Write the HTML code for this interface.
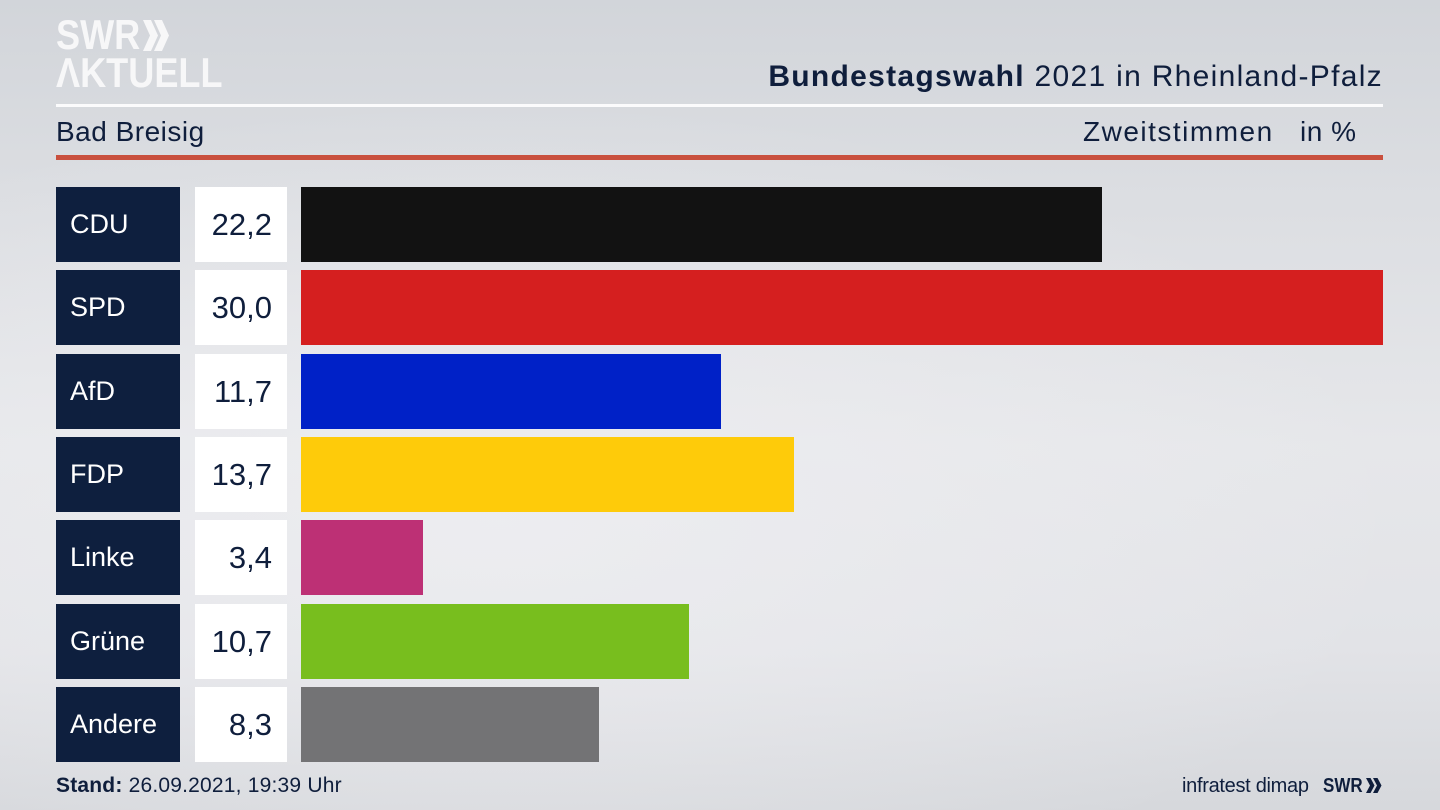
<!DOCTYPE html>
<html>
<head>
<meta charset="utf-8">
<style>
  html,body{margin:0;padding:0;}
  body{width:1440px;height:810px;overflow:hidden;position:relative;
    font-family:"Liberation Sans",sans-serif;color:#0f1e3c;
    background:
      radial-gradient(ellipse 900px 420px at 500px 520px, rgba(240,240,243,0.7), rgba(240,240,243,0) 100%),
      linear-gradient(180deg,#d2d5da 0%,#dcdee2 25%,#e6e7ea 55%,#e2e3e7 80%,#d6d8dc 100%);}
  .abs{position:absolute;}
  .logo{left:56px;color:#f7f7f8;font-weight:bold;font-size:42px;line-height:1;transform-origin:0 0;transform:scaleX(0.86);white-space:nowrap;}
  .title{right:57px;top:58px;font-size:30px;letter-spacing:1.3px;white-space:nowrap;line-height:38px;}
  .sub{top:114px;font-size:28px;line-height:36px;white-space:nowrap;}
  .lbl{left:56px;width:124px;height:75px;background:#0e1f3e;color:#fff;font-size:27px;line-height:75px;box-sizing:border-box;padding-left:14px;}
  .val{left:195px;width:92px;height:75px;background:#fff;color:#0f1e3c;font-size:31px;line-height:75px;text-align:right;box-sizing:border-box;padding-right:15px;}
  .bar{left:301px;height:75px;}
</style>
</head>
<body>
  <!-- Logo -->
  <div class="abs logo" style="top:14px;">SWR</div>
  <svg class="abs" style="left:143px;top:20px;" width="27" height="31" viewBox="0 0 27 31">
    <polygon points="0,0 8,0 15,15.5 8,31 0,31 7,15.5" fill="#f7f7f8"/>
    <polygon points="11,0 19,0 26,15.5 19,31 11,31 18,15.5" fill="#f7f7f8"/>
  </svg>
  <div class="abs logo" style="top:52px;">ΛKTUELL</div>

  <!-- Title -->
  <div class="abs title"><b>Bundestagswahl</b> 2021 in Rheinland-Pfalz</div>
  <div class="abs" style="left:56px;top:104px;width:1327px;height:3px;background:#fbfbfc;"></div>

  <div class="abs sub" style="left:56px;letter-spacing:0.5px;">Bad Breisig</div>
  <div class="abs sub" style="left:1083px;letter-spacing:1.5px;">Zweitstimmen</div>
  <div class="abs sub" style="left:1300px;letter-spacing:0.5px;">in %</div>
  <div class="abs" style="left:56px;top:155px;width:1327px;height:5px;background:#c9503e;"></div>

  <!-- Rows -->
  <div class="abs lbl" style="top:187px;">CDU</div>
  <div class="abs val" style="top:187px;">22,2</div>
  <div class="abs bar" style="top:187px;width:801px;background:#121212;"></div>

  <div class="abs lbl" style="top:270px;">SPD</div>
  <div class="abs val" style="top:270px;">30,0</div>
  <div class="abs bar" style="top:270px;width:1082px;background:#d51f1f;"></div>

  <div class="abs lbl" style="top:354px;">AfD</div>
  <div class="abs val" style="top:354px;">11,7</div>
  <div class="abs bar" style="top:354px;width:420px;background:#0021c7;"></div>

  <div class="abs lbl" style="top:437px;">FDP</div>
  <div class="abs val" style="top:437px;">13,7</div>
  <div class="abs bar" style="top:437px;width:493px;background:#fecb0a;"></div>

  <div class="abs lbl" style="top:520px;">Linke</div>
  <div class="abs val" style="top:520px;">3,4</div>
  <div class="abs bar" style="top:520px;width:122px;background:#bd3075;"></div>

  <div class="abs lbl" style="top:604px;">Grüne</div>
  <div class="abs val" style="top:604px;">10,7</div>
  <div class="abs bar" style="top:604px;width:388px;background:#78be1e;"></div>

  <div class="abs lbl" style="top:687px;">Andere</div>
  <div class="abs val" style="top:687px;">8,3</div>
  <div class="abs bar" style="top:687px;width:298px;background:#737375;"></div>

  <!-- Footer -->
  <div class="abs" style="left:56px;top:773px;font-size:21px;letter-spacing:0.2px;line-height:26px;white-space:nowrap;"><b>Stand:</b> 26.09.2021, 19:39 Uhr</div>
  <div class="abs" style="left:1182px;top:773px;font-size:20px;line-height:26px;white-space:nowrap;letter-spacing:-0.3px;">infratest dimap</div>
  <div class="abs" style="left:1323px;top:774px;font-size:20px;font-weight:bold;line-height:24px;transform-origin:0 0;transform:scaleX(0.85);white-space:nowrap;">SWR</div>
  <svg class="abs" style="left:1366px;top:778px;" width="17" height="15" viewBox="0 0 17 15">
    <polygon points="0,0 4.5,0 8.5,7.5 4.5,15 0,15 4,7.5" fill="#0f1e3c"/>
    <polygon points="7,0 11.5,0 15.5,7.5 11.5,15 7,15 11,7.5" fill="#0f1e3c"/>
  </svg>
</body>
</html>
